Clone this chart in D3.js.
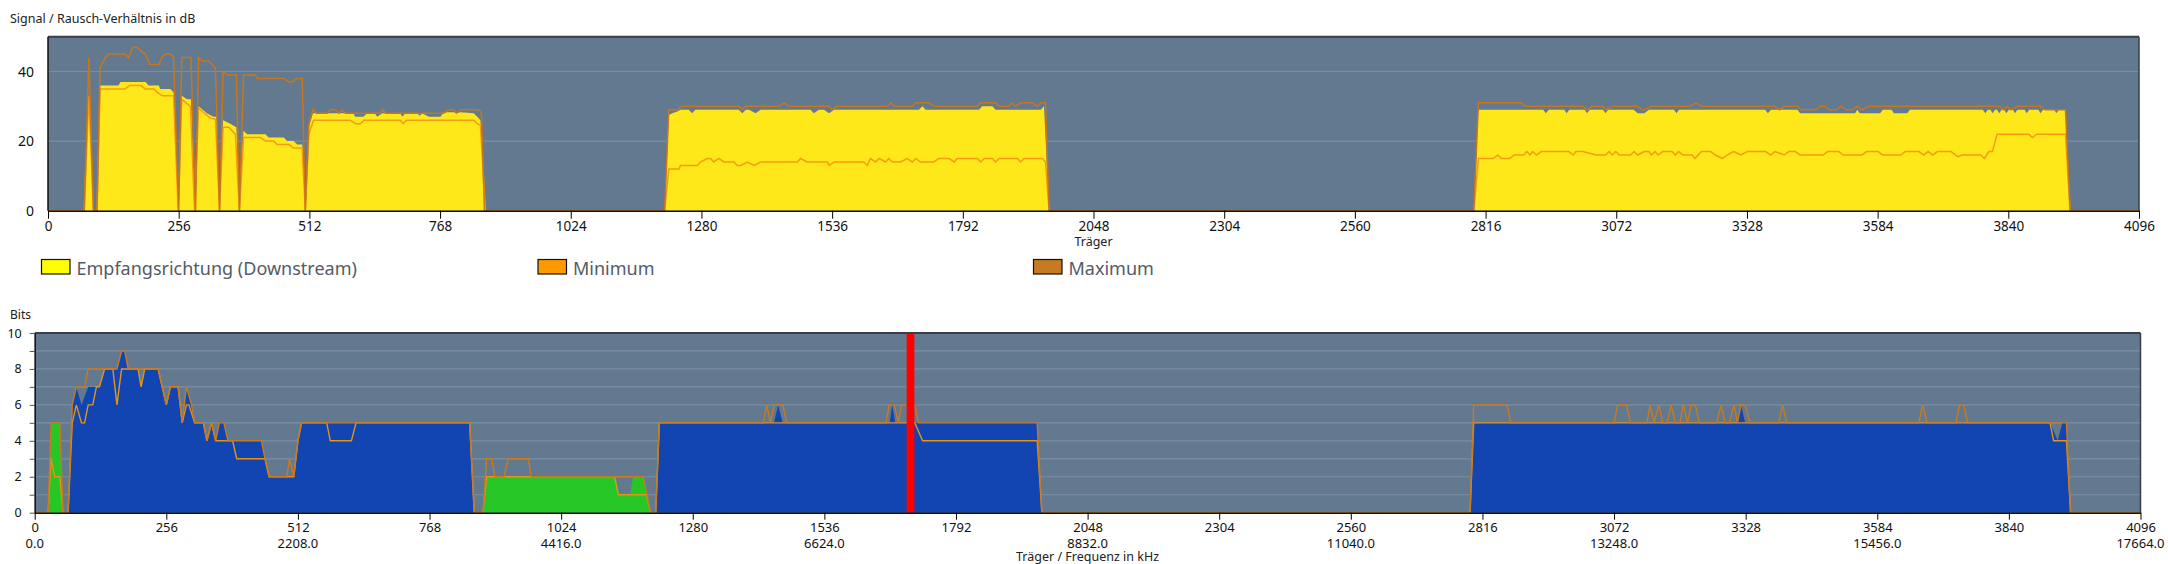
<!DOCTYPE html>
<html><head><meta charset="utf-8">
<script src="https://cdn.jsdelivr.net/npm/d3@7"></script>
<style>
html,body{margin:0;padding:0;background:#fff;}
svg{display:block;font-family:"Noto Sans","DejaVu Sans",sans-serif;}
</style></head>
<body><svg id="c" width="2168" height="564"></svg>
<script>
// ---------- tick labels ----------
const carrierTicks = [0,256,512,768,1024,1280,1536,1792,2048,2304,2560,2816,3072,3328,3584,3840,4096];
const freqTickCarriers = [0,512,1024,1536,2048,2560,3072,3584,4096];
const freqLabels = ["0.0","2208.0","4416.0","6624.0","8832.0","11040.0","13248.0","15456.0","17664.0"];
const snrTicks = [0,20,40];
const snrGrid = [20,40];
const bitTicks = [0,2,4,6,8,10];
const bitGrid = [1,2,3,4,5,6,7,8,9];
const bitMinorTicks = [0,1,2,3,4,5,6,7,8,9,10];
const legendLabels = ["Empfangsrichtung (Downstream)","Minimum","Maximum"];

// ---------- SNR (dB) per carrier: [carrier, value] ----------
const snrDownstream = [[0,0],[71,0],[80,33],[89,0],[96,0],[102,36],[138,36],[142,37],[191,37],[197,36],[217,36],[220,35],[240,35],[246,34],[255,0],
[262,33],[272,32],[280,32],[287,0],[295,30],[311,28],[324,27],[331,27],[336,0],[343,26],[357,25],[369,24],[375,0],
[383,23],[390,22],[426,22],[432,21],[462,21],[468,20],[481,20],[488,19],[498,19],[504,0],
[511,24],[519,28],[598,28],[602,27],[618,27],[625,28],[640,28],[645,27],[655,28],[690,28],[694,27],[700,28],[723,28],[728,27.3],[733,28],[746,27],[769,27],[775,28.3],[795,28.3],[800,28],[808,28.3],[834,28],[841,27],[847,26],[857,0],
[1208,0],[1216,27.5],[1223,28],[1233,28.5],[1239,29],[1255,29],[1262,28],[1268,29],[1353,29],[1360,28],[1367,29],[1373,29],[1386,28],[1396,29],[1494,29],[1500,28],[1510,29],[1520,29],[1530,28],[1540,29],[1706,29],[1713,30],[1719,29],[1824,29],[1830,30],[1850,30],[1856,29],[1945,29],[1951,30],[1961,0],
[2793,0],[2802,29],[2929,29],[2934,28],[2940,29],[2970,29],[2975,28],[2980,29],[3010,29],[3015,28],[3020,29],[3046,29],[3051,28],[3056,29],[3106,29],[3114,28],[3127,28],[3136,29],[3185,29],[3190,28],[3195,29],[3364,29],[3369,28],[3375,29],[3427,29],[3432,28],[3540,28],[3544,29],[3549,28],[3589,28],[3594,29],[3611,29],[3616,28],[3642,28],[3647,29],[3790,29],[3795,28],[3800,29],[3805,29],[3809,28],[3814,29],[3818,29],[3822,28],[3827,29],[3832,29],[3836,28],[3841,29],[3849,29],[3853,28],[3858,29],[3872,29],[3876,28],[3881,29],[3899,29],[3903,28],[3908,29],[3930,29],[3934,28],[3939,29],[3952,29],[3961,0],[4096,0]];

const snrMinimum = [[0,0],[71,0],[80,33],[89,0],[96,0],[102,35],[151,35],[160,36],[182,36],[190,35],[207,35],[214,34],[224,33],[246,33],[255,0],
[262,32],[279,30],[287,0],[295,29.5],[302,28.5],[318,26.6],[328,26.3],[336,0],[343,24],[354,24],[367,22],[375,0],
[383,21],[416,21],[426,20],[442,20],[449,19],[472,19],[481,18],[498,18],[504,0],
[511,22],[520,26],[592,26],[602,25],[612,25],[619,26],[690,26],[696,25],[702,26],[834,26],[841,25],[847,24.5],[857,0],
[1208,0],[1216,12],[1236,12],[1239,13],[1272,13],[1278,14],[1291,15],[1298,15],[1304,14],[1314,15],[1324,14],[1344,14],[1350,13],[1357,13],[1370,14],[1383,13],[1396,14],[1468,14],[1474,15],[1487,14],[1527,14],[1530,13],[1540,14],[1598,14],[1605,13],[1611,15],[1621,14],[1628,15],[1641,14],[1647,15],[1654,14],[1670,14],[1683,15],[1693,14],[1700,15],[1709,14],[1735,14],[1745,15],[1765,15],[1775,14],[1781,15],[1820,15],[1827,14],[1834,15],[1850,15],[1856,14],[1863,15],[1899,15],[1905,14],[1912,15],[1948,15],[1954,14],[1961,0],
[2793,0],[2802,15],[2831,15],[2840,16],[2847,15],[2863,15],[2872,16],[2890,16],[2897,17],[2903,16],[2908,17],[2916,16],[2925,17],[2979,17],[2988,16],[2993,17],[3006,17],[3033,16],[3051,16],[3058,17],[3064,16],[3071,17],[3078,16],[3100,16],[3107,17],[3114,16],[3127,17],[3136,17],[3141,16],[3148,17],[3154,16],[3163,17],[3181,17],[3188,16],[3194,17],[3203,16],[3221,16],[3226,15],[3239,17],[3257,17],[3266,16],[3280,15],[3289,16],[3302,17],[3316,16],[3329,17],[3365,17],[3374,16],[3383,17],[3401,16],[3410,17],[3423,17],[3432,16],[3477,16],[3486,17],[3508,17],[3517,16],[3553,16],[3562,17],[3585,17],[3594,16],[3629,16],[3638,17],[3665,17],[3674,16],[3683,17],[3692,16],[3701,17],[3728,17],[3741,15.5],[3750,16],[3786,16],[3793,15],[3802,17],[3809,17],[3818,22],[3880,22],[3887,21],[3896,22],[3952,22],[3961,0],[4096,0]];

const snrMaximum = [[0,0],[71,0],[80,44],[89,0],[96,0],[102,41],[112,44],[119,45],[151,45],[158,44],[166,47],[174,47],[181,46],[191,45],[199,42],[217,42],[223,44],[230,45],[240,45],[246,44],[256,0],
[262,44],[280,44],[289,0],[295,44],[302,43],[315,43],[328,41],[336,0],[343,40],[351,39],[369,39],[375,0],
[383,39],[406,39],[410,38],[462,38],[472,37],[478,37],[488,38],[498,38],[504,0],
[511,25],[519,29],[526,28],[547,28],[553,29],[563,29],[570,28],[576,29],[583,28],[651,28],[656,29],[661,28],[775,28],[785,29],[795,29],[800,28],[808,29],[844,29],[849,28],[855,0],
[1208,0],[1216,29],[1232,29],[1242,30],[1353,30],[1360,29],[1367,30],[1432,30],[1442,31],[1451,30],[1530,30],[1536,29],[1546,30],[1644,30],[1651,31],[1657,30],[1693,30],[1700,31],[1726,31],[1735,30],[1820,30],[1827,31],[1856,31],[1863,30],[1883,30],[1889,31],[1895,30],[1906,31],[1928,31],[1938,30],[1945,31],[1954,31],[1961,0],
[2793,0],[2802,31],[2885,31],[2894,30],[3006,30],[3015,29],[3024,30],[3046,30],[3051,29],[3064,30],[3114,30],[3123,29],[3127,29],[3141,30],[3217,30],[3228,31],[3239,30],[3383,30],[3392,29],[3401,30],[3428,30],[3432,29],[3463,29],[3472,30],[3481,30],[3490,29],[3504,29],[3513,30],[3522,29],[3535,29],[3544,30],[3553,29],[3567,30],[3822,30],[3831,29],[3838,30],[3845,29],[3858,30],[3903,30],[3912,29],[3952,29],[3961,0],[4096,0]];

// ---------- Bits per carrier: [carrier, bits] ----------
const bitsDownstream = [[0,0],[65,0],[73,6],[81,7],[91,6],[104,7],[126,7],[136,8],[160,8],[169,9],[175,9],[182,8],[201,8],[207,7],[214,8],[240,8],[256,6],[264,7],[279,7],[287,5],[295,7],[305,6],[311,5],[328,5],[335,4],[344,5],[352,4],[359,5],[368,5],[376,4],[441,4],[448,3],[456,2],[504,2],[512,4],[519,5],[846,5],[855,0],
[1208,0],[1215,5],[1438,5],[1446,6],[1455,5],[1663,5],[1668,6],[1674,5],[1950,5],[1959,0],
[2792,0],[2799,5],[3312,5],[3319,6],[3327,5],[3920,5],[3935,4],[3944,5],[3952,5],[3960,0],[4096,0]];

const bitsUpstream = [[0,0],[26,0],[32,5],[49,5],[55,0],[872,0],[879,2],[1128,2],[1138,1],[1158,1],[1164,2],[1184,2],[1198,0],[4096,0]];

const bitsMaximum = [[0,0],[26,0],[32,5],[49,5],[55,0],[65,0],[73,6],[81,7],[97,7],[104,8],[160,8],[169,9],[175,9],[182,8],[240,8],[256,6],[264,7],[279,7],[287,5],[295,7],[305,6],[311,5],[328,5],[335,4],[344,5],[352,4],[359,5],[368,5],[376,4],[441,4],[448,3],[456,2],[490,2],[496,3],[504,2],[512,4],[519,5],[846,5],[855,0],
[872,0],[879,3],[889,3],[895,2],[913,2],[921,3],[960,3],[966,2],[1184,2],[1198,0],
[1208,0],[1215,5],[1417,5],[1424,6],[1431,5],[1438,6],[1455,6],[1463,5],[1656,5],[1662,6],[1672,6],[1680,5],[1686,6],[1712,6],[1719,5],[1950,5],[1959,0],
[2792,0],[2799,6],[2864,6],[2871,5],[3072,5],[3079,6],[3096,6],[3104,5],[3136,5],[3142,6],[3150,5],[3159,6],[3167,5],[3175,5],[3183,6],[3191,5],[3200,5],[3207,6],[3215,5],[3222,6],[3230,6],[3238,5],[3272,5],[3280,6],[3288,5],[3297,5],[3305,6],[3312,5],[3319,6],[3327,6],[3336,5],[3392,5],[3400,6],[3408,5],[3665,5],[3672,6],[3681,5],[3737,5],[3744,6],[3752,6],[3760,5],[3952,5],[3960,0],[4096,0]];

const bitsMinimum = [[0,0],[26,0],[32,3],[39,2],[49,2],[55,0],[65,0],[73,5],[81,6],[91,5],[97,5],[104,6],[113,6],[120,7],[126,7],[136,8],[152,8],[160,6],[169,8],[201,8],[207,7],[214,8],[240,8],[256,6],[264,7],[279,7],[287,5],[295,6],[300,6],[311,5],[328,5],[335,4],[344,5],[352,4],[368,4],[385,4],[393,3],[441,3],[448,3],[456,2],[504,2],[512,4],[519,5],[568,5],[575,4],[616,4],[625,5],[846,5],[855,0],
[872,0],[879,2],[1128,2],[1135,1],[1190,1],[1198,0],
[1208,0],[1215,5],[1712,5],[1727,4],[1950,4],[1959,0],
[2792,0],[2799,5],[3920,5],[3927,4],[3952,4],[3960,0],[4096,0]];

const markerCarriers = [1696,1711];

// ---------- drawing ----------
const svg = d3.select("#c");
const C = {bg:"#62798f", grid:"#7b8fa3", yellow:"#ffe81a", min:"#f59c12", max:"#c8761e",
           blue:"#1244b2", green:"#25c625", bmin:"#e3951a", bmax:"#c97a1f", red:"#ff0000"};
const fmtInt = d3.format("d");

function panel(o){
  const g = svg.append("g");
  const x = d3.scaleLinear().domain([0,4096]).range([o.x0,o.x1]);
  const y = d3.scaleLinear().domain(o.ydom).range([o.y1,o.y0]);
  g.append("rect").attr("x",o.x0).attr("y",o.y0).attr("width",o.x1-o.x0).attr("height",o.y1-o.y0).attr("fill",C.bg);
  g.selectAll(".grid").data(o.grid).join("line")
    .attr("x1",o.x0).attr("x2",o.x1).attr("y1",d=>y(d)).attr("y2",d=>y(d))
    .attr("stroke",C.grid).attr("stroke-width",1.2);
  return {g,x,y};
}

// Top SNR chart
const T = {x0:48, x1:2139, y0:36.7, y1:210.7, ydom:[0,50], grid:snrGrid};
const snrP = panel(T);
const areaT = d3.area().x(d=>snrP.x(d[0])).y0(snrP.y(0)).y1(d=>snrP.y(d[1]));
const lineT = d3.line().x(d=>snrP.x(d[0])).y(d=>snrP.y(d[1]));
snrP.g.append("path").datum(snrDownstream).attr("d",areaT).attr("fill",C.yellow);
snrP.g.append("path").datum(snrMinimum).attr("d",lineT).attr("fill","none").attr("stroke",C.min).attr("stroke-width",1.5);
snrP.g.append("path").datum(snrMaximum).attr("d",lineT).attr("fill","none").attr("stroke",C.max).attr("stroke-width",1.5);
snrP.g.append("line").attr("x1",T.x0).attr("x2",T.x1).attr("y1",T.y0).attr("y2",T.y0).attr("stroke","#3a3f45").attr("stroke-width",2);
snrP.g.append("line").attr("x1",T.x1).attr("x2",T.x1).attr("y1",T.y0).attr("y2",T.y1).attr("stroke","#3a3f45").attr("stroke-width",1.5);
snrP.g.append("line").attr("x1",T.x0).attr("x2",T.x0).attr("y1",T.y0).attr("y2",T.y1).attr("stroke","#111").attr("stroke-width",1.5);
const axT = d3.axisBottom(snrP.x).tickValues(carrierTicks).tickFormat(fmtInt).tickSize(8).tickSizeOuter(0).tickPadding(3);
const gAxT = svg.append("g").attr("transform",`translate(0,${T.y1})`).call(axT);
gAxT.select(".domain").attr("stroke","#111").attr("stroke-width",1.5);
gAxT.selectAll("text").attr("font-size",13.5).attr("fill","#111").attr("font-family","Noto Sans");
svg.append("g").selectAll("text").data(snrTicks).join("text")
  .attr("x",T.x0-14).attr("y",d=>snrP.y(d)).attr("dy","0.36em").attr("text-anchor","end")
  .attr("font-size",14).attr("fill","#111").text(d=>d);
svg.append("text").attr("x",10).attr("y",23).attr("font-size",12.5).attr("fill","#222").text("Signal / Rausch-Verhältnis in dB");
svg.append("text").attr("x",(T.x0+T.x1)/2).attr("y",246).attr("text-anchor","middle").attr("font-size",12.5).attr("fill","#222").text("Träger");

// legend
const legColors = ["#ffff00", "#ff9900", "#c87a22"];
const legX = [41.5, 538, 1033.5];
const leg = svg.append("g");
legendLabels.forEach((t,i)=>{
  leg.append("rect").attr("x",legX[i]).attr("y",259.5).attr("width",28.5).attr("height",14.5)
     .attr("fill",legColors[i]).attr("stroke","#111").attr("stroke-width",1.2);
  leg.append("text").attr("x",legX[i]+35).attr("y",275).attr("font-size",18).attr("fill","#535b68").text(t);
});

// Bottom bits chart
const B = {x0:34.7, x1:2140.5, y0:333, y1:512.7, ydom:[0,10], grid:bitGrid};
const bitP = panel(B);
const areaB = d3.area().x(d=>bitP.x(d[0])).y0(bitP.y(0)).y1(d=>bitP.y(d[1]));
const lineB = d3.line().x(d=>bitP.x(d[0])).y(d=>bitP.y(d[1]));
bitP.g.append("path").datum(bitsDownstream).attr("d",areaB).attr("fill",C.blue);
bitP.g.append("path").datum(bitsUpstream).attr("d",areaB).attr("fill",C.green);
bitP.g.append("path").datum(bitsMinimum).attr("d",lineB).attr("fill","none").attr("stroke",C.bmin).attr("stroke-width",1.4);
bitP.g.append("path").datum(bitsMaximum).attr("d",lineB).attr("fill","none").attr("stroke",C.bmax).attr("stroke-width",1.4);
bitP.g.append("rect").attr("x",bitP.x(markerCarriers[0])).attr("y",B.y0)
  .attr("width",bitP.x(markerCarriers[1])-bitP.x(markerCarriers[0])).attr("height",B.y1-B.y0).attr("fill",C.red);
bitP.g.append("line").attr("x1",B.x0).attr("x2",B.x1).attr("y1",B.y0).attr("y2",B.y0).attr("stroke","#3a3f45").attr("stroke-width",2);
bitP.g.append("line").attr("x1",B.x1).attr("x2",B.x1).attr("y1",B.y0).attr("y2",B.y1).attr("stroke","#3a3f45").attr("stroke-width",1.5);
const axBL = svg.append("g").attr("transform",`translate(${B.x0},0)`)
  .call(d3.axisLeft(bitP.y).tickValues(bitMinorTicks).tickSize(5).tickSizeOuter(0).tickFormat(""));
axBL.select(".domain").attr("stroke","#111").attr("stroke-width",1.5);
axBL.selectAll(".tick line").attr("stroke","#555");
svg.append("g").selectAll("text").data(bitTicks).join("text")
  .attr("x",B.x0-13).attr("y",d=>bitP.y(d)).attr("dy","0.36em").attr("text-anchor","end")
  .attr("font-size",12.5).attr("fill","#111").text(d=>d);
const axB = d3.axisBottom(bitP.x).tickValues(carrierTicks).tickFormat(fmtInt).tickSize(7).tickSizeOuter(0).tickPadding(3);
const gAxB = svg.append("g").attr("transform",`translate(0,${B.y1})`).call(axB);
gAxB.select(".domain").attr("stroke","#111").attr("stroke-width",1.5);
gAxB.selectAll("text").attr("font-size",13).attr("fill","#111").attr("font-family","Noto Sans");
svg.append("g").selectAll("text").data(freqTickCarriers).join("text")
  .attr("x",d=>bitP.x(d)).attr("y",548).attr("text-anchor","middle").attr("font-size",13).attr("fill","#111")
  .text((d,i)=>freqLabels[i]);
svg.append("text").attr("x",(B.x0+B.x1)/2).attr("y",561).attr("text-anchor","middle").attr("font-size",12.5).attr("fill","#222").text("Träger / Frequenz in kHz");
svg.append("text").attr("x",10).attr("y",319).attr("font-size",12).attr("fill","#222").text("Bits");
</script></body></html>
